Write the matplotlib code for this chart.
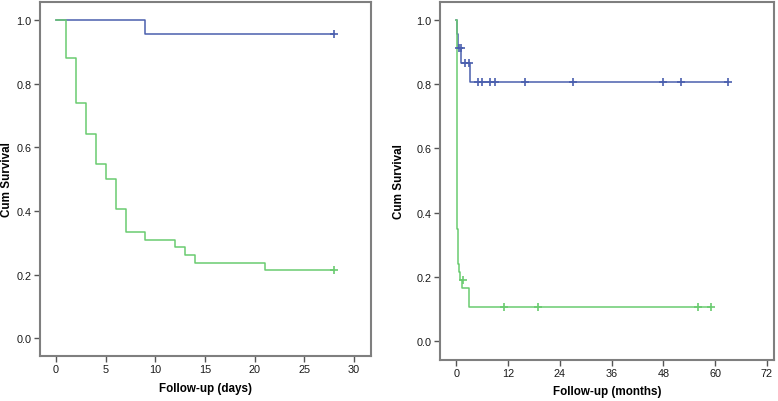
import numpy as np
import matplotlib.pyplot as plt

plt.rcParams['font.family'] = ['Liberation Sans', 'DejaVu Sans']

# left panel: follow-up in days
days_blue_t = [0, 9, 28]
days_blue_s = [1.0, 0.957, 0.957]
days_blue_cens_t = [28]
days_blue_cens_s = [0.957]

days_green_t = [0, 1, 2, 3, 4, 5, 6, 7, 9, 12, 13, 14, 21, 28]
days_green_s = [1.0, 0.881, 0.738, 0.643, 0.548, 0.5, 0.405, 0.333, 0.310,
                0.286, 0.262, 0.238, 0.214, 0.214]
days_green_cens_t = [28]
days_green_cens_s = [0.214]

# right panel: follow-up in months
mon_blue_t = [0, 0.2, 0.4, 1.1, 3.1, 63]
mon_blue_s = [1.0, 0.957, 0.913, 0.865, 0.806, 0.806]
mon_blue_cens_t = [0.6, 1.0, 2.1, 3.0, 5, 6, 7.8, 9, 16, 27, 48, 52, 63]
mon_blue_cens_s = [0.913, 0.913, 0.865, 0.865, 0.806, 0.806, 0.806, 0.806,
                   0.806, 0.806, 0.806, 0.806, 0.806]

mon_green_t = [0, 0.05, 0.08, 0.1, 0.15, 0.2, 0.3, 0.4, 0.5, 0.7, 0.9, 1.3, 3.0, 59]
mon_green_s = [1.0, 0.9, 0.75, 0.6, 0.45, 0.35, 0.3, 0.26, 0.24, 0.215, 0.19,
               0.165, 0.108, 0.108]
mon_green_cens_t = [1.5, 11, 19, 56, 59]
mon_green_cens_s = [0.19, 0.108, 0.108, 0.108, 0.108]

blue = '#4a5fae'
green = '#6acb70'
frame = '#7f7f7f'

fig = plt.figure(figsize=(7.78, 4.02), dpi=100)
ax1 = fig.add_axes([0.0514, 0.1127, 0.4255, 0.880])
ax2 = fig.add_axes([0.5656, 0.1020, 0.4287, 0.8905])


def style(ax, xlabel, xticks, xlim, ylim, ylab_x, xlab_y):
    for side in ['top', 'right', 'left', 'bottom']:
        ax.spines[side].set_color(frame)
        ax.spines[side].set_linewidth(1.5)
    ax.set_xlim(*xlim)
    ax.set_ylim(*ylim)
    ax.set_xticks(xticks)
    ax.set_yticks([0.0, 0.2, 0.4, 0.6, 0.8, 1.0])
    ax.set_yticklabels(['0.0', '0.2', '0.4', '0.6', '0.8', '1.0'])
    ax.tick_params(length=4, width=1, color='#555555', labelsize=7.8,
                   labelcolor='#1a1a1a', pad=2)
    ax.set_xlabel(xlabel, fontsize=8.4, fontweight='bold')
    ax.set_ylabel('Cum Survival', fontsize=8.4, fontweight='bold')
    ax.yaxis.set_label_coords(ylab_x, 0.5)
    ax.xaxis.set_label_coords(0.5, xlab_y)


ax1.step(days_blue_t, days_blue_s, where='post', color=blue, lw=1.1)
ax1.step(days_green_t, days_green_s, where='post', color=green, lw=1.1)
ax1.plot(days_blue_cens_t, days_blue_cens_s, '+', color=blue, ms=6, mew=1.2)
ax1.plot(days_green_cens_t, days_green_cens_s, '+', color=green, ms=6, mew=1.2)
style(ax1, 'Follow-up (days)', [0, 5, 10, 15, 20, 25, 30],
      (-1.61, 31.71), (-0.0547, 1.0566), -0.082, -0.0735)

ax2.step(mon_blue_t, mon_blue_s, where='post', color=blue, lw=1.1)
ax2.step(mon_green_t, mon_green_s, where='post', color=green, lw=1.1)
ax2.plot(mon_blue_cens_t, mon_blue_cens_s, '+', color=blue, ms=6, mew=1.2)
ax2.plot(mon_green_cens_t, mon_green_cens_s, '+', color=green, ms=6, mew=1.2)
style(ax2, 'Follow-up (months)', [0, 12, 24, 36, 48, 60, 72],
      (-3.78, 73.56), (-0.0578, 1.055), -0.105, -0.071)

fig.savefig('out.png', dpi=100)
